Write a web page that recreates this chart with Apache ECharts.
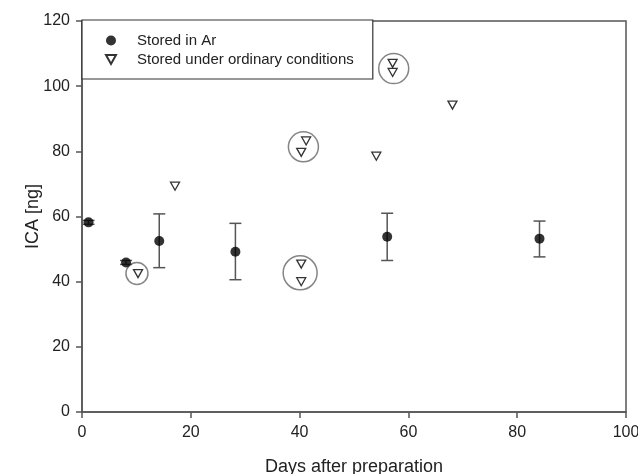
<!DOCTYPE html>
<html>
<head>
<meta charset="utf-8">
<script src="https://cdn.jsdelivr.net/npm/echarts@6/dist/echarts.min.js"></script>
<style>
  html, body { margin: 0; padding: 0; background: #fff; }
  #chart { width: 638px; height: 474px; }
</style>
</head>
<body>
<div id="chart"></div>
<script>
// Stored in Ar: days, mean, error bar low / high
const arDays = [1.2, 8.1, 14.2, 28.2, 56.1, 84.1]
const arValues = [58.2, 45.9, 52.5, 49.2, 53.8, 53.2]
const arLow = [57.6, 45.3, 44.3, 40.6, 46.5, 47.6]
const arHigh = [58.8, 46.5, 60.8, 57.9, 61.0, 58.6]

// Stored under ordinary conditions
const ordDays = [10.3, 17.1, 40.3, 40.3, 40.3, 41.2, 54.1, 57.1, 57.1, 68.1]
const ordValues = [42.5, 69.3, 45.4, 40.0, 79.7, 83.2, 78.5, 107.0, 104.2, 94.2]

// ringed groups: center day, center value, ring diameter (px)
const ringDays = [10.1, 40.7, 40.1, 57.3]
const ringValues = [42.5, 81.4, 42.7, 105.4]
const ringSizes = [22, 30, 34, 30]

const xTicks = [0, 20, 40, 60, 80, 100]
const yTicks = [0, 20, 40, 60, 80, 100, 120]

const chart = echarts.init(document.getElementById('chart'))

const axisColor = '#555'
const font = 'Liberation Sans, Arial, sans-serif'
const triangleDown = 'path://M0,0 L10,0 L5,9 Z'

const option = {
  backgroundColor: '#fff',
  animation: false,
  grid: {
    left: 82,
    right: 12,
    top: 21,
    bottom: 62,
    outerBoundsMode: 'none',
    containLabel: false,
    show: true,
    borderColor: axisColor,
    borderWidth: 1.5
  },
  legend: {
    orient: 'vertical',
    left: 82,
    top: 20,
    padding: [13, 19, 12, 23],
    itemGap: 4,
    itemWidth: 10,
    itemHeight: 10,
    backgroundColor: '#fff',
    borderColor: '#333',
    borderWidth: 1.2,
    borderRadius: 0,
    textStyle: {
      fontFamily: font,
      fontSize: 15,
      color: '#222',
      padding: [0, 0, 0, 16]
    },
    data: [
      { name: 'Stored in Ar', icon: 'circle' },
      { name: 'Stored under ordinary conditions', icon: triangleDown }
    ]
  },
  xAxis: {
    type: 'value',
    min: 0,
    max: 100,
    interval: 20,
    name: 'Days after preparation',
    nameLocation: 'middle',
    nameGap: 46,
    nameMoveOverlap: false,
    nameTextStyle: { fontFamily: font, fontSize: 18, color: '#222' },
    axisLine: { show: true, lineStyle: { color: axisColor, width: 1.5 } },
    axisTick: { show: true, length: 6, lineStyle: { color: axisColor, width: 1.5 } },
    axisLabel: {
      margin: 13,
      fontFamily: font,
      fontSize: 16,
      color: '#222',
      formatter: v => xTicks.includes(v) ? String(v) : ''
    },
    splitLine: { show: false }
  },
  yAxis: {
    type: 'value',
    min: 0,
    max: 120,
    interval: 20,
    name: 'ICA [ng]',
    nameLocation: 'middle',
    nameGap: 40,
    nameMoveOverlap: false,
    nameTextStyle: { fontFamily: font, fontSize: 18, color: '#222' },
    axisLine: { show: true, lineStyle: { color: axisColor, width: 1.5 } },
    axisTick: { show: true, length: 6, lineStyle: { color: axisColor, width: 1.5 } },
    axisLabel: {
      margin: 12,
      fontFamily: font,
      fontSize: 16,
      color: '#222',
      formatter: v => yTicks.includes(v) ? String(v) : ''
    },
    splitLine: { show: false }
  },
  series: [
    {
      name: 'error bars',
      type: 'custom',
      silent: true,
      z: 2,
      data: arDays.map((d, i) => [d, arLow[i], arHigh[i]]),
      renderItem: function (params, api) {
        const lo = api.coord([api.value(0), api.value(1)])
        const hi = api.coord([api.value(0), api.value(2)])
        const half = 6
        const style = { stroke: axisColor, lineWidth: 1.5 }
        return {
          type: 'group',
          children: [
            { type: 'line', shape: { x1: lo[0], y1: lo[1], x2: hi[0], y2: hi[1] }, style },
            { type: 'line', shape: { x1: lo[0] - half, y1: lo[1], x2: lo[0] + half, y2: lo[1] }, style },
            { type: 'line', shape: { x1: hi[0] - half, y1: hi[1], x2: hi[0] + half, y2: hi[1] }, style }
          ]
        }
      }
    },
    {
      name: 'Stored in Ar',
      type: 'scatter',
      z: 3,
      symbol: 'circle',
      symbolSize: 10,
      itemStyle: { color: '#000' },
      data: arDays.map((d, i) => [d, arValues[i]])
    },
    {
      name: 'Stored under ordinary conditions',
      type: 'scatter',
      z: 3,
      symbol: triangleDown,
      symbolSize: [9, 8],
      itemStyle: { color: '#fff', borderColor: '#000', borderWidth: 1.3 },
      data: ordDays.map((d, i) => [d, ordValues[i]])
    },
    {
      name: 'rings',
      type: 'scatter',
      silent: true,
      z: 1,
      symbol: 'circle',
      itemStyle: { color: 'rgba(0,0,0,0)', borderColor: '#666', borderWidth: 1.5 },
      data: ringDays.map((d, i) => ({ value: [d, ringValues[i]], symbolSize: ringSizes[i] }))
    }
  ]
}

chart.setOption(option)
</script>
</body>
</html>
